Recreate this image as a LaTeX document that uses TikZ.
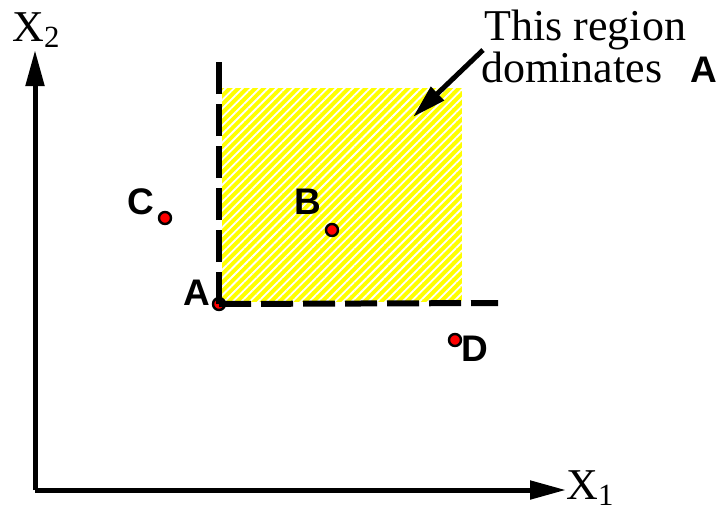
\documentclass[tikz,border=0pt]{standalone}
\usepackage{fontspec}
\setmainfont{Liberation Serif}
\newfontfamily\labelfont{Liberation Sans}
\usetikzlibrary{arrows.meta,patterns.meta}
\definecolor{cyel}{HTML}{FFFF00}
\definecolor{cpt}{HTML}{FF0000}
\definecolor{cdark}{HTML}{000000}

\begin{document}
\begin{tikzpicture}[x=0.5pt,y=-0.5pt,
  axis/.style={-{Triangle[length=18pt, width=9pt]}, line width=2.5pt, draw=cdark},
  bound/.style={line width=3pt, draw=cdark, dash pattern=on 16pt off 5pt},
  pt/.style={circle, draw=cdark, fill=cpt, line width=1.2pt, inner sep=0, minimum size=6pt},
  lbl/.style={font=\labelfont\bfseries\fontsize{18.5}{20}\selectfont, inner sep=0},
  txt/.style={font=\fontsize{22}{24}\selectfont, inner sep=0},
  pointer/.style={-{Triangle[length=17pt, width=9pt]}, line width=2.5pt, draw=cdark}]

\useasboundingbox (0,0) rectangle (721,509);

\fill[cyel] (222,88) rectangle (462,302);
\fill[pattern={Lines[angle=45, distance=3pt, line width=0.9pt]}, pattern color=white] (222,88) rectangle (462,302);

\coordinate (orig) at (35,490);
\coordinate (ytip) at (35,50);
\coordinate (xtip) at (566,490);
\node[txt, anchor=base west] (x2) at (12,41) {X\textsubscript{2}};
\node[txt, anchor=base west] (x1) at (566,499) {X\textsubscript{1}};
\draw[axis] (orig) -- (ytip);
\draw[axis] (orig) -- (xtip);

\node[pt] (a) at (219,304) {};
\node[pt] (b) at (332,230) {};
\node[pt] (c) at (165,218) {};
\node[pt] (d) at (455,340) {};
\coordinate (vtop) at (219,60);
\coordinate (hend) at (498,303);
\draw[bound] (a.center) -- (vtop);
\draw[bound] (a.center) -- (hend);

\node[lbl] (la) at (197,293) {A};
\node[lbl] (lb) at (308,202) {B};
\node[lbl] (lc) at (141,202) {C};
\node[lbl] (ld) at (475,349) {D};
\node[lbl] (lref) at (704,70) {A};

\node[txt, anchor=base west] (t1) at (484,40) {This region};
\node[txt, anchor=base west] (t2) at (481,82) {dominates};
\coordinate (tip) at (413,117);
\draw[pointer] (483,50) -- (tip);
\end{tikzpicture}
\end{document}
